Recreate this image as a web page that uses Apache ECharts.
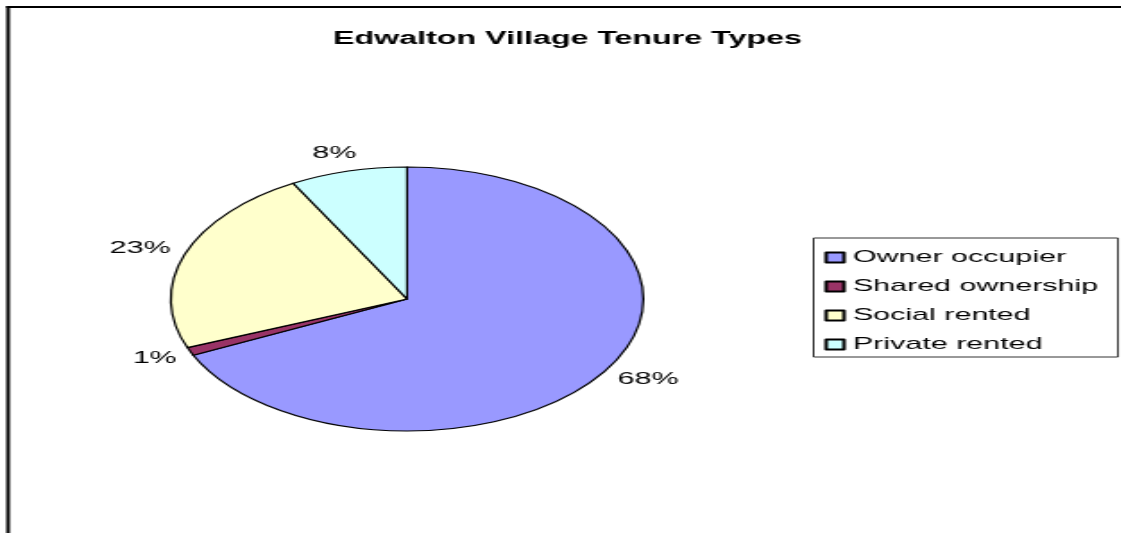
<!DOCTYPE html>
<html>
<head>
<meta charset="utf-8">
<script src="https://cdn.jsdelivr.net/npm/echarts@6/dist/echarts.min.js"></script>
<style>
  html, body { margin: 0; padding: 0; background: #fff; overflow: hidden; width: 1121px; height: 533px; }
  /* the original picture is a chart stretched sideways, so draw it narrow and stretch it */
  #main { position: absolute; left: 0; top: 0; width: 626px; height: 533px; transform: scaleX(1.79); transform-origin: 0 0; }
</style>
</head>
<body>
<div id="main"></div>
<script>
// Data
var categories = ['Owner occupier', 'Shared ownership', 'Social rented', 'Private rented']
var shares = [68, 1, 23, 8]
var colors = ['#9999FF', '#993366', '#FFFFCC', '#CCFFFF']

var pieData = categories.map(function (name, i) {
  return {name: name, value: shares[i]}
})

var font = '"Liberation Sans", Arial, sans-serif'

var option = {
  animation: false,
  color: colors,
  title: {
    text: 'Edwalton Village Tenure Types',
    left: 312,
    top: 25,
    textAlign: 'center',
    textStyle: {
      fontFamily: font,
      fontSize: 18,
      fontWeight: 'bold',
      color: '#000'
    }
  },
  legend: {
    orient: 'vertical',
    left: 454.5,
    top: 238,
    data: categories,
    icon: 'rect',
    itemWidth: 10,
    itemHeight: 10,
    itemGap: 12,
    padding: [11, 11, 4, 6],
    borderColor: '#333',
    borderWidth: 1,
    textStyle: {
      fontFamily: font,
      fontSize: 17,
      color: '#000'
    }
  },
  // chart frame: top and left edges only
  graphic: [{
    type: 'line',
    silent: true,
    shape: {x1: 3.5, y1: 7, x2: 660, y2: 7},
    style: {stroke: '#000', lineWidth: 2}
  }, {
    type: 'line',
    silent: true,
    shape: {x1: 4.5, y1: 6, x2: 4.5, y2: 540},
    style: {stroke: '#000', lineWidth: 2}
  }],
  series: [{
    name: 'Tenure',
    type: 'pie',
    center: [227.4, 299],
    radius: 132,
    startAngle: 90,
    clockwise: true,
    avoidLabelOverlap: false,
    itemStyle: {
      borderColor: '#000',
      borderWidth: 1.2
    },
    label: {
      show: true,
      position: 'outside',
      formatter: '{d}%',
      fontFamily: font,
      fontSize: 17,
      color: '#000',
      distanceToLabelLine: -9
    },
    labelLine: {
      show: false,
      length: 18,
      length2: 0
    },
    emphasis: {disabled: true},
    data: pieData
  }]
}

var mainEcharts = echarts.init(document.getElementById('main'))
mainEcharts.setOption(option)
</script>
</body>
</html>
